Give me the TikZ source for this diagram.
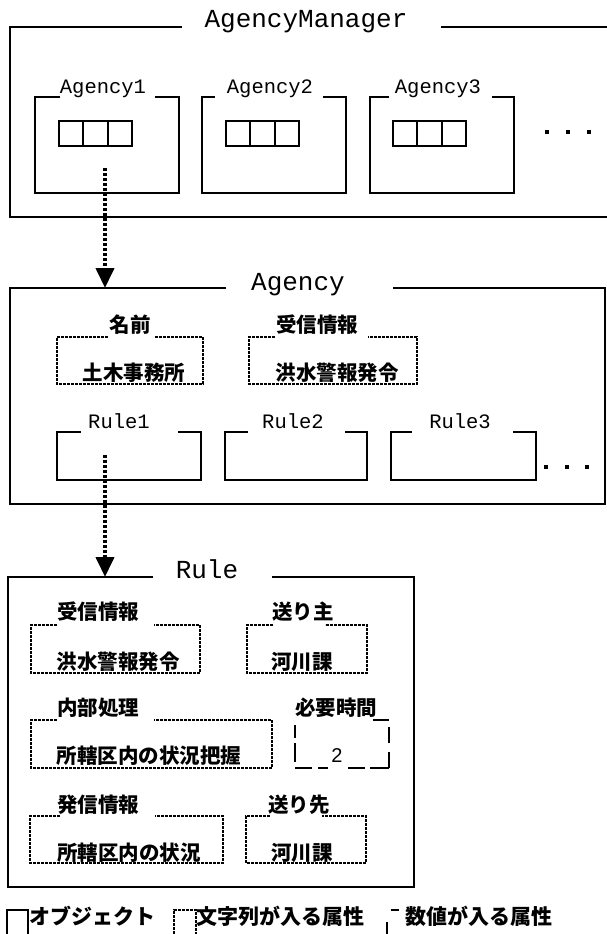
\documentclass[tikz,border=0pt]{standalone}
\usepackage{fontspec}
\usetikzlibrary{arrows.meta}
\newfontfamily\jp{Noto Sans CJK JP}
\newfontfamily\mono{Liberation Mono}
\newfontfamily\sansf{Liberation Sans}
\newcommand\gapbox[7]{\draw[#7] (#5,#2) -- (#1,#2) -- (#1,#4) -- (#3,#4) -- (#3,#2) -- (#6,#2);}
\tikzset{
 objbox/.style={line width=1.8pt},
 strbox/.style={line width=1.3pt, dash pattern=on 2.6pt off 1.4pt},
 numseg/.style={line width=1.6pt},
 ttl/.style={font=\mono\fontsize{26}{26}\selectfont, anchor=base, inner sep=0pt},
 sub/.style={font=\mono\fontsize{20.5}{20.5}\selectfont, anchor=base, inner sep=0pt},
 jl/.style={font=\jp\bfseries\fontsize{20.5}{20.5}\selectfont, inner sep=0pt},
 lg/.style={font=\jp\bfseries\fontsize{21}{21}\selectfont, inner sep=0pt, anchor=west},
 flow/.style={line width=4pt, dash pattern=on 3pt off 2pt, -{Triangle[width=18pt,length=20pt]}},
 dotm/.style={fill, minimum size=3.5pt, inner sep=0pt},
}
\begin{document}
\begin{tikzpicture}[x=1pt,y=-1pt]
\useasboundingbox[fill=white] (0,0) rectangle (607,934);
% ---------- AgencyManager
\draw[objbox] (182,27) -- (10,27) -- (10,217) -- (612,217);
\draw[objbox] (441,27) -- (612,27);
\node[ttl] (amt) at (306,28) {AgencyManager};
\gapbox{35}{97}{179}{193}{60}{155}{objbox}
\gapbox{202}{97}{346}{193}{215}{323}{objbox}
\gapbox{370}{97}{514}{193}{389}{492}{objbox}
\node[sub] (a1) at (103,93) {Agency1};
\node[sub] (a2) at (270,93) {Agency2};
\node[sub] (a3) at (438,93) {Agency3};
\foreach \x in {59,226,393}{
  \draw[objbox] (\x,121) rectangle (\x+73,146);
  \draw[objbox] (\x+24.3,121) -- (\x+24.3,146);
  \draw[objbox] (\x+48.7,121) -- (\x+48.7,146);
}
\node[dotm] (dm1) at (547,132) {};
\node[dotm] (dm2) at (568,132) {};
\node[dotm] (dm3) at (589,132) {};
% ---------- Agency
\draw[objbox] (226,288) -- (10,288) -- (10,504) -- (605,504) -- (605,288) -- (393,288);
\node[ttl] (agt) at (298,290) {Agency};
\gapbox{57}{337}{203}{384}{108}{155}{strbox}
\gapbox{249}{337}{417}{384}{275}{368}{strbox}
\node[jl] (nm) at (130,325) {名前};
\node[jl] (rc) at (317,325) {受信情報};
\node[jl] (nmv) at (134,373) {土木事務所};
\node[jl] (rcv) at (337,373) {洪水警報発令};
\gapbox{57}{432}{201}{480}{81}{178}{objbox}
\gapbox{225}{432}{367}{480}{248}{345}{objbox}
\gapbox{391}{432}{536}{480}{412}{513}{objbox}
\node[sub] (r1) at (119,428) {Rule1};
\node[sub] (r2) at (293,428) {Rule2};
\node[sub] (r3) at (460,428) {Rule3};
\node[dotm] (dr1) at (546,467) {};
\node[dotm] (dr2) at (567,467) {};
\node[dotm] (dr3) at (587,467) {};
% ---------- Rule
\draw[objbox] (153,577) -- (8,577) -- (8,887) -- (414,887) -- (414,577) -- (272,577);
\node[ttl] (rt) at (207,578) {Rule};
\gapbox{31}{625}{200}{673}{57}{154}{strbox}
\gapbox{247}{625}{367}{673}{273}{325}{strbox}
\gapbox{31}{720}{272}{768}{57}{154}{strbox}
\gapbox{30}{816}{223}{863}{60}{155}{strbox}
\gapbox{246}{816}{366}{863}{270}{322}{strbox}
\node[jl] (l1) at (98,612) {受信情報};
\node[jl] (v1) at (118,662) {洪水警報発令};
\node[jl] (l2) at (303,612) {送り主};
\node[jl] (v2) at (302,662) {河川課};
\node[jl] (l3) at (98,708) {内部処理};
\node[jl] (v3) at (149,756) {所轄区内の状況把握};
\node[jl] (l4) at (336,708) {必要時間};
\node[font=\sansf\fontsize{20}{20}\selectfont, inner sep=0pt] (v4) at (337,756) {2};
\node[jl] (l5) at (98,805) {発信情報};
\node[jl] (v5) at (129,853) {所轄区内の状況};
\node[jl] (l6) at (299,805) {送り先};
\node[jl] (v6) at (302,853) {河川課};
% numeric box segments
\draw[numseg] (373,720) -- (389,720);
\draw[numseg] (295,725) -- (295,738);
\draw[numseg] (295,743) -- (295,762);
\draw[numseg] (389,727) -- (389,743);
\draw[numseg] (389,752) -- (389,768);
\draw[numseg] (295,768) -- (312,768);
\draw[numseg] (318,768) -- (328,768);
\draw[numseg] (348,768) -- (365,768);
\draw[numseg] (370,768) -- (389,768);
% ---------- connectors
\coordinate (s1) at (105,168);
\coordinate (e1) at (105,288);
\coordinate (s2) at (105,455);
\coordinate (e2) at (105,577);
\draw[flow] (s1) -- (e1);
\draw[flow] (s2) -- (e2);
% ---------- legend
\draw[objbox] (7,938) -- (7,910) -- (28,910) -- (28,938);
\draw[strbox] (174,938) -- (174,910) -- (196,910) -- (196,938);
\draw[numseg] (391,910) -- (399,910);
\draw[numseg] (387,922) -- (387,938);
\node[lg] (lg1) at (29,916) {オブジェクト};
\node[lg] (lg2) at (196,916) {文字列が入る属性};
\node[lg] (lg3) at (405,916) {数値が入る属性};
\end{tikzpicture}
\end{document}
